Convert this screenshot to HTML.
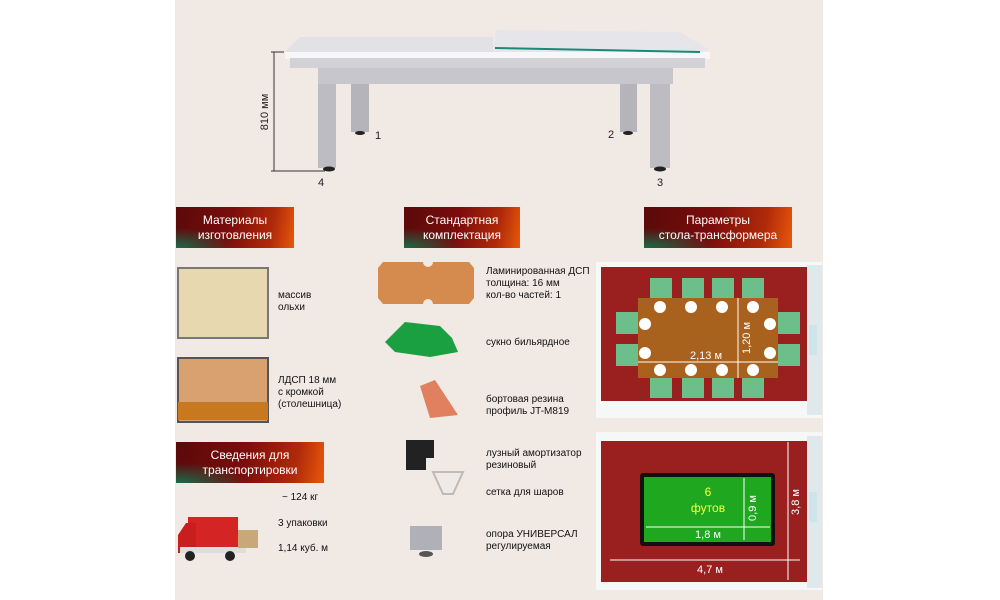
<!DOCTYPE html>
<html><head><meta charset="utf-8"><style>
body{margin:0;width:1000px;height:600px;background:#fff;position:relative;overflow:hidden;font-family:"Liberation Sans",sans-serif;}
.panel{position:absolute;left:175px;top:0;width:648px;height:600px;background:#f1e9e4;}
.ban{position:absolute;height:41px;color:#fff;font-size:12px;line-height:15px;text-align:center;display:flex;align-items:center;justify-content:center;
background:radial-gradient(ellipse at 0% 100%,#1a6a4a 0%,rgba(26,106,74,0) 35%),linear-gradient(100deg,#5a0a0a 0%,#7a0c0c 45%,#b02a0a 80%,#e8580a 100%);}
.t{position:absolute;font-size:10px;line-height:12px;color:#111;}
svg{position:absolute;left:0;top:0}
</style></head><body>
<div class="panel"></div>
<svg width="1000" height="600">
<!-- table -->
<polygon points="285,52 300,37 493,37 493,52" fill="#e2e2e6"/>
<polygon points="493,52 496,30 680,32 710,50 700,52" fill="#e6e6ea"/>
<rect x="285" y="52" width="425" height="7" fill="#f7f7f9"/>
<line x1="495" y1="48" x2="700" y2="52" stroke="#1a8a78" stroke-width="2"/>
<rect x="290" y="58" width="415" height="10" fill="#d2d2d6"/>
<rect x="318" y="68" width="355" height="16" fill="#c6c6cc"/>
<rect x="318" y="84" width="18" height="84" fill="#bcbcc2"/>
<rect x="351" y="84" width="18" height="48" fill="#b4b4ba"/>
<rect x="620" y="84" width="17" height="48" fill="#b4b4ba"/>
<rect x="650" y="84" width="20" height="84" fill="#bcbcc2"/>
<ellipse cx="360" cy="133" rx="5" ry="2" fill="#222"/><ellipse cx="628" cy="133" rx="5" ry="2" fill="#222"/>
<ellipse cx="329" cy="169" rx="6" ry="2.5" fill="#222"/><ellipse cx="660" cy="169" rx="6" ry="2.5" fill="#222"/>
<line x1="274" y1="52" x2="274" y2="171" stroke="#333"/><line x1="271" y1="52" x2="284" y2="52" stroke="#333"/><line x1="271" y1="171" x2="325" y2="171" stroke="#333"/>
<text x="268" y="112" font-size="11" fill="#222" transform="rotate(-90 268 112)" text-anchor="middle" font-family="Liberation Sans">810 мм</text>
<text x="375" y="139" font-size="11" fill="#222">1</text><text x="608" y="138" font-size="11" fill="#222">2</text>
<text x="318" y="186" font-size="11" fill="#222">4</text><text x="657" y="186" font-size="11" fill="#222">3</text>
<!-- wood samples -->
<rect x="178" y="268" width="90" height="70" fill="#e8d8b0" stroke="#777" stroke-width="2"/>
<rect x="178" y="358" width="90" height="64" fill="#d9a070" stroke="#555" stroke-width="2"/>
<rect x="178" y="402" width="90" height="18" fill="#c8781e"/>
<!-- board -->
<path d="M383,262 h40 a5,5 0 0 0 10,0 h36 l5,6 v30 l-5,6 h-36 a5,5 0 0 0 -10,0 h-40 l-5,-6 v-30z" fill="#d58a4e"/>
<polygon points="385,342 405,322 440,326 452,338 458,352 430,357 395,352" fill="#1aa040"/>
<polygon points="420,386 435,380 458,415 430,418" fill="#e0805e"/>
<path d="M406,440 h28 v18 h-8 v12 h-20z" fill="#222"/>
<path d="M433,472 h30 l-10,22 h-10z" fill="none" stroke="#bbb" stroke-width="2"/>
<rect x="410" y="526" width="32" height="24" fill="#b0b0b8"/><ellipse cx="426" cy="554" rx="7" ry="3" fill="#555"/>
<!-- truck -->
<rect x="188" y="517" width="50" height="32" fill="#d42424"/>
<path d="M178,535 l8,-12 h10 v30 h-18z" fill="#c81e1e"/>
<rect x="180" y="547" width="66" height="6" fill="#ddd"/>
<circle cx="190" cy="556" r="5" fill="#222"/><circle cx="230" cy="556" r="5" fill="#222"/>
<rect x="238" y="530" width="20" height="18" fill="#c8a878"/>
<!-- room 1 -->
<rect x="596" y="262" width="226" height="156" fill="#f6f8f8"/>
<rect x="601" y="267" width="206" height="134" fill="#9a2020"/>
<rect x="807" y="265" width="15" height="150" fill="#dfe8ea"/>
<rect x="809" y="325" width="8" height="30" fill="#cfe3ea"/>
<g fill="#6cbf8a"><rect x="650" y="278" width="22" height="20"/><rect x="682" y="278" width="22" height="20"/><rect x="712" y="278" width="22" height="20"/><rect x="742" y="278" width="22" height="20"/>
<rect x="650" y="378" width="22" height="20"/><rect x="682" y="378" width="22" height="20"/><rect x="712" y="378" width="22" height="20"/><rect x="742" y="378" width="22" height="20"/>
<rect x="616" y="312" width="22" height="22"/><rect x="616" y="344" width="22" height="22"/><rect x="778" y="312" width="22" height="22"/><rect x="778" y="344" width="22" height="22"/></g>
<rect x="638" y="298" width="140" height="80" fill="#a8621e"/>
<g fill="#fff"><circle cx="660" cy="307" r="6"/><circle cx="691" cy="307" r="6"/><circle cx="722" cy="307" r="6"/><circle cx="753" cy="307" r="6"/>
<circle cx="660" cy="370" r="6"/><circle cx="691" cy="370" r="6"/><circle cx="722" cy="370" r="6"/><circle cx="753" cy="370" r="6"/>
<circle cx="645" cy="324" r="6"/><circle cx="645" cy="353" r="6"/><circle cx="770" cy="324" r="6"/><circle cx="770" cy="353" r="6"/></g>
<line x1="638" y1="362" x2="778" y2="362" stroke="#fff"/><line x1="738" y1="298" x2="738" y2="378" stroke="#fff"/>
<text x="706" y="359" font-size="11" fill="#fff" text-anchor="middle">2,13 м</text>
<text x="750" y="338" font-size="11" fill="#fff" text-anchor="middle" transform="rotate(-90 750 338)">1,20 м</text>
<!-- room 2 -->
<rect x="596" y="432" width="226" height="158" fill="#f6f8f8"/>
<rect x="601" y="441" width="206" height="141" fill="#9a2020"/>
<rect x="807" y="436" width="15" height="152" fill="#dfe8ea"/>
<rect x="809" y="492" width="8" height="30" fill="#cfe3ea"/>
<rect x="640" y="473" width="135" height="73" fill="#111" rx="3"/>
<rect x="644" y="477" width="127" height="65" fill="#1fa81f"/>
<text x="708" y="496" font-size="12" fill="#ffff40" text-anchor="middle">6</text>
<text x="708" y="512" font-size="12" fill="#ffff40" text-anchor="middle">футов</text>
<line x1="646" y1="527" x2="770" y2="527" stroke="#fff"/><line x1="744" y1="478" x2="744" y2="540" stroke="#fff"/>
<text x="708" y="538" font-size="11" fill="#fff" text-anchor="middle">1,8 м</text>
<text x="756" y="508" font-size="11" fill="#fff" text-anchor="middle" transform="rotate(-90 756 508)">0,9 м</text>
<line x1="610" y1="560" x2="800" y2="560" stroke="#fff"/><line x1="788" y1="442" x2="788" y2="580" stroke="#fff"/>
<text x="710" y="573" font-size="11" fill="#fff" text-anchor="middle">4,7 м</text>
<text x="799" y="502" font-size="11" fill="#fff" text-anchor="middle" transform="rotate(-90 799 502)">3,8 м</text>
</svg>
<div class="ban" style="left:176px;top:207px;width:118px">Материалы<br>изготовления</div>
<div class="ban" style="left:404px;top:207px;width:116px">Стандартная<br>комплектация</div>
<div class="ban" style="left:644px;top:207px;width:148px">Параметры<br>стола-трансформера</div>
<div class="ban" style="left:176px;top:442px;width:148px">Сведения для<br>транспортировки</div>
<div class="t" style="left:278px;top:290px">массив<br>ольхи</div>
<div class="t" style="left:278px;top:375px">ЛДСП 18 мм<br>с кромкой<br>(столешница)</div>
<div class="t" style="left:486px;top:266px">Ламинированная ДСП<br>толщина: 16 мм<br>кол-во частей: 1</div>
<div class="t" style="left:486px;top:337px">сукно бильярдное</div>
<div class="t" style="left:486px;top:394px">бортовая резина<br>профиль JT-M819</div>
<div class="t" style="left:486px;top:448px">лузный амортизатор<br>резиновый</div>
<div class="t" style="left:486px;top:487px">сетка для шаров</div>
<div class="t" style="left:486px;top:529px">опора УНИВЕРСАЛ<br>регулируемая</div>
<div class="t" style="left:282px;top:492px">~ 124 кг</div>
<div class="t" style="left:278px;top:518px">3 упаковки</div>
<div class="t" style="left:278px;top:543px">1,14 куб. м</div>
</body></html>
